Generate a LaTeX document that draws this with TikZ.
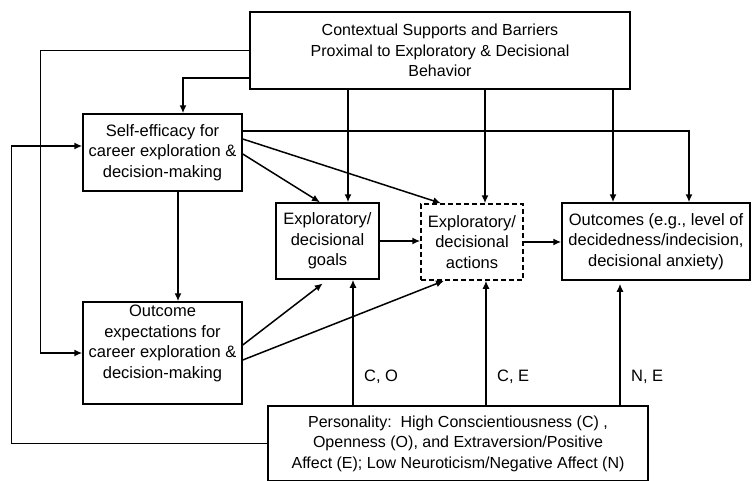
\documentclass[tikz,border=0pt]{standalone}
\usepackage{fontspec}
\setmainfont{Liberation Sans}
\usepackage{tikz}
\usetikzlibrary{arrows.meta}

\begin{document}
\begin{tikzpicture}[x=1pt,y=-1pt,->,>={Latex[length=8pt,width=7pt]},line width=1.5pt,
	font=\fontsize{16.5}{20.5}\selectfont,
	main node/.style={draw,align=center,inner sep=0pt},
	wide node/.style={main node,font=\fontsize{16}{20.5}\selectfont},
	dash node/.style={main node,dash pattern=on 5pt off 3pt}]
	\useasboundingbox (0,0) rectangle (752,480);
	
	\node[wide node,minimum width=380pt,minimum height=77pt] (0) at (440,50.5) {Contextual Supports and Barriers\\Proximal to Exploratory \& Decisional\\Behavior};
	\node[main node,minimum width=159pt,minimum height=77pt] (1) at (162.5,152.5) {Self-efficacy for\\career exploration \&\\decision-making};
	\node[main node,minimum width=159pt,minimum height=102pt] (2) at (162.5,353) {};
	\node[align=center,inner sep=0pt] (2a) at (162.5,343.5) {Outcome\\expectations for\\career exploration \&\\decision-making};
	\node[main node,minimum width=103pt,minimum height=76pt] (3) at (327.5,241) {Exploratory/\\decisional\\goals};
	\node[dash node,minimum width=102pt,minimum height=76pt] (4) at (472,242) {Exploratory/\\decisional\\actions};
	\node[main node,minimum width=188pt,minimum height=77pt] (5) at (656,241.5) {Outcomes (e.g., level of\\decidedness/indecision,\\decisional anxiety)};
	\node[wide node,minimum width=380pt,minimum height=75pt] (6) at (458,443.5) {Personality:\ \ High Conscientiousness (C) ,\\Openness (O), and Extraversion/Positive\\Affect (E); Low Neuroticism/Negative Affect (N)};
	
	% contextual supports and barriers
	\draw (0.west) -- ++(-209,0) |- (2.west);
	\draw ([yshift=12pt]0.south west) -| ([xshift=20.5pt]1.north);
	\draw ([xshift=20.5pt]3.north |- 0.south) -- ([xshift=20.5pt]3.north);
	\draw ([xshift=13pt]4.north |- 0.south) -- ([xshift=13pt]4.north);
	\draw ([xshift=-43pt]5.north |- 0.south) -- ([xshift=-43pt]5.north);
	
	% self-efficacy
	\draw ([yshift=21.5pt]1.east) -| ([xshift=33pt]5.north);
	\draw ([yshift=13.5pt]1.east) -- ([xshift=-31pt]4.north);
	\draw ([yshift=-1.5pt]1.east) -- ([xshift=-7.5pt]3.north);
	\draw ([xshift=15.5pt]1.south) -- ([xshift=15.5pt]2.north);
	
	% outcome expectations
	\draw[shorten >=6pt] ([yshift=8pt]2.east) -- (3.south);
	\draw ([yshift=-7pt]2.east) -- ([xshift=-28pt]4.south);
	
	\draw (3.east) -- (3.east -| 4.west);
	\draw (4.east) -- (4.east -| 5.west);
	
	% personality
	\draw (6.west) -- ++(-256,0) |- ([yshift=6.5pt]1.west);
	\draw ([xshift=25.5pt]3.south |- 6.north) -- node[pos=0.23,right=7pt] {C, O} ([xshift=25.5pt]3.south);
	\draw ([xshift=14pt]4.south |- 6.north) -- node[pos=0.23,right=7pt] {C, E} ([xshift=14pt]4.south);
	\draw[shorten >=3pt] ([xshift=-36pt]5.south |- 6.north) -- node[pos=0.23,right=7pt] {N, E} ([xshift=-36pt]5.south);
\end{tikzpicture}
\end{document}
